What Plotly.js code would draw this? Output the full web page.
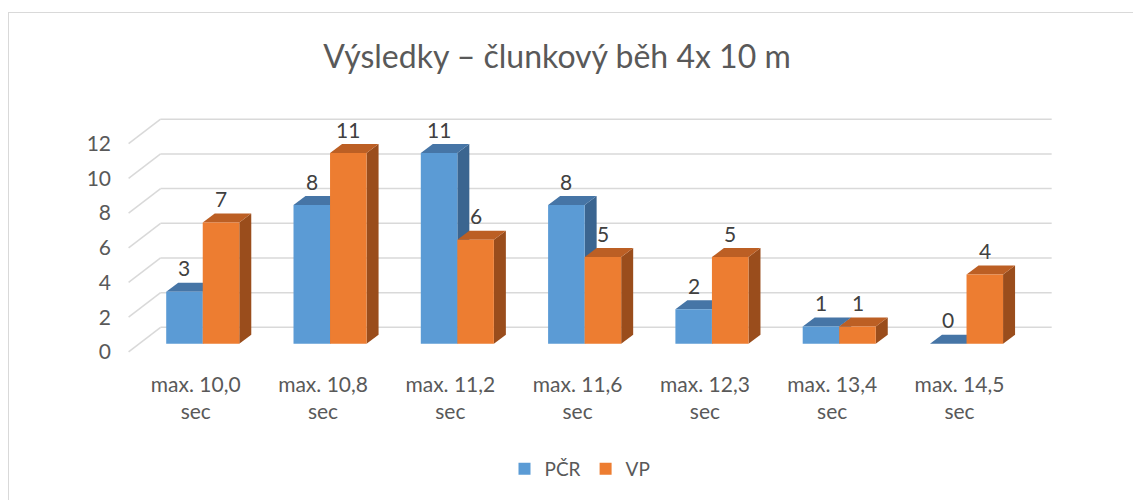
<!DOCTYPE html>
<html><head><meta charset="utf-8">
<script src="https://cdn.plot.ly/plotly-3.0.1.min.js"></script>
<style>html,body{margin:0;padding:0;background:#fff;}#chart{width:1133px;height:500px;}</style>
</head><body><div id="chart"></div>
<script>
// ---- data ----
const categories = ['max. 10,0<br>sec','max. 10,8<br>sec','max. 11,2<br>sec','max. 11,6<br>sec','max. 12,3<br>sec','max. 13,4<br>sec','max. 14,5<br>sec'];
const seriesNames = ['PČR','VP'];
const pcrValues = [3, 8, 11, 8, 2, 1, 0];
const vpValues = [7, 11, 6, 5, 5, 1, 4];
const yTickValues = [0, 2, 4, 6, 8, 10, 12];
const titleText = 'Výsledky – člunkový běh 4x 10 m';

// ---- layout geometry ----
const W = 1133, H = 500;
const M = {l: 120, r: 71, t: 101, b: 144};
const xRange = [-0.65, 6.75], yRange = [-0.7, 14];
const plotW = W - M.l - M.r, plotH = H - M.t - M.b;
const ppx = plotW / (xRange[1] - xRange[0]);
const ppy = plotH / (yRange[1] - yRange[0]);
const bargap = 0.426;
const barW = (1 - bargap) / 2;
// depth offsets (pixels) converted into axis units
const barDepth = {x: 12 / ppx, y: 9 / ppy};
const frontWall = {x: -10.5 / ppx, y: -8 / ppy};
const backWall = {x: 21.5 / ppx, y: 16.5 / ppy};

const xs = categories.map((c, i) => i);
const colors = {
  front: ['#5B9BD5', '#ED7D31'],
  top: ['#4675A6', '#BC5F24'],
  side: ['#3B6590', '#9A4D1C']
};
const series = [pcrValues, vpValues];

const shapes = [];
const gridCol = '#d9d9d9';
// back wall grid + left wall lines
yTickValues.forEach(v => {
  shapes.push({type: 'line', xref: 'x', yref: 'y', layer: 'below',
    x0: -0.5 + backWall.x, x1: xs.length - 0.5 + backWall.x,
    y0: v + backWall.y, y1: v + backWall.y, line: {color: gridCol, width: 1.5}});
  shapes.push({type: 'line', xref: 'x', yref: 'y', layer: 'below',
    x0: -0.5 + frontWall.x, x1: -0.5 + backWall.x,
    y0: v + frontWall.y, y1: v + backWall.y, line: {color: gridCol, width: 1.5}});
});
// 3D faces for each bar
series.forEach((vals, s) => {
  vals.forEach((v, i) => {
    const xl = s === 0 ? i - barW : i;
    const xr = xl + barW;
    const dx = barDepth.x, dy = barDepth.y;
    shapes.push({type: 'path', xref: 'x', yref: 'y', layer: 'below',
      path: `M${xr},0 L${xr},${v} L${xr+dx},${v+dy} L${xr+dx},${dy} Z`,
      fillcolor: colors.side[s], line: {width: 0}});
    shapes.push({type: 'path', xref: 'x', yref: 'y', layer: 'below',
      path: `M${xl},${v} L${xr},${v} L${xr+dx},${v+dy} L${xl+dx},${v+dy} Z`,
      fillcolor: colors.top[s], line: {width: 0}});
  });
});
// chart border (top and left)
const px2paperX = px => (px - M.l) / plotW;
const py2paperY = py => (H - M.b - py) / plotH;
shapes.push({type: 'line', xref: 'paper', yref: 'paper', x0: px2paperX(8), x1: px2paperX(1140),
  y0: py2paperY(12.5), y1: py2paperY(12.5), line: {color: '#d9d9d9', width: 1}});
shapes.push({type: 'line', xref: 'paper', yref: 'paper', x0: px2paperX(8.5), x1: px2paperX(8.5),
  y0: py2paperY(12), y1: py2paperY(510), line: {color: '#d9d9d9', width: 1}});

const annotations = [];
series.forEach((vals, s) => {
  vals.forEach((v, i) => {
    annotations.push({x: s === 0 ? i - barW / 2 : i + barW / 2, y: v, xref: 'x', yref: 'y',
      text: String(v), showarrow: false, yshift: 24, yanchor: 'middle', xanchor: 'center',
      font: {family: 'Lato, sans-serif', size: 21, color: '#404040'}});
  });
});

const traces = series.map((vals, s) => ({
  type: 'bar', x: xs, y: vals, name: seriesNames[s],
  marker: {color: colors.front[s], line: {width: 0}},
  hoverinfo: 'skip'
}));

const layout = {
  width: W, height: H, margin: M,
  paper_bgcolor: '#ffffff', plot_bgcolor: 'rgba(0,0,0,0)',
  barmode: 'group', bargap: bargap, bargroupgap: 0,
  title: {text: titleText, x: 557 / W, xanchor: 'center', y: 1 - 57 / H, yanchor: 'middle',
    font: {family: 'Lato, sans-serif', size: 32, color: '#595959'}},
  xaxis: {range: xRange, tickvals: xs, ticktext: categories, showgrid: false, zeroline: false,
    showline: false, ticks: '', ticklabelshift: -7, ticklabelstandoff: 14, fixedrange: true,
    tickfont: {family: 'Lato, sans-serif', size: 21, color: '#595959'}},
  yaxis: {range: yRange, tickvals: yTickValues, showgrid: false, zeroline: false, showline: false,
    ticks: '', ticklabelshift: 8, ticklabelstandoff: 8, fixedrange: true,
    tickfont: {family: 'Lato, sans-serif', size: 21, color: '#595959'}},
  showlegend: true,
  legend: {orientation: 'h', x: px2paperX(580), xanchor: 'center', y: py2paperY(469), yanchor: 'middle',
    font: {family: 'Lato, sans-serif', size: 19, color: '#595959'}, itemwidth: 30, bgcolor: 'rgba(0,0,0,0)'},
  shapes: shapes, annotations: annotations
};
Plotly.newPlot('chart', traces, layout, {displayModeBar: false, staticPlot: true});
</script></body></html>
